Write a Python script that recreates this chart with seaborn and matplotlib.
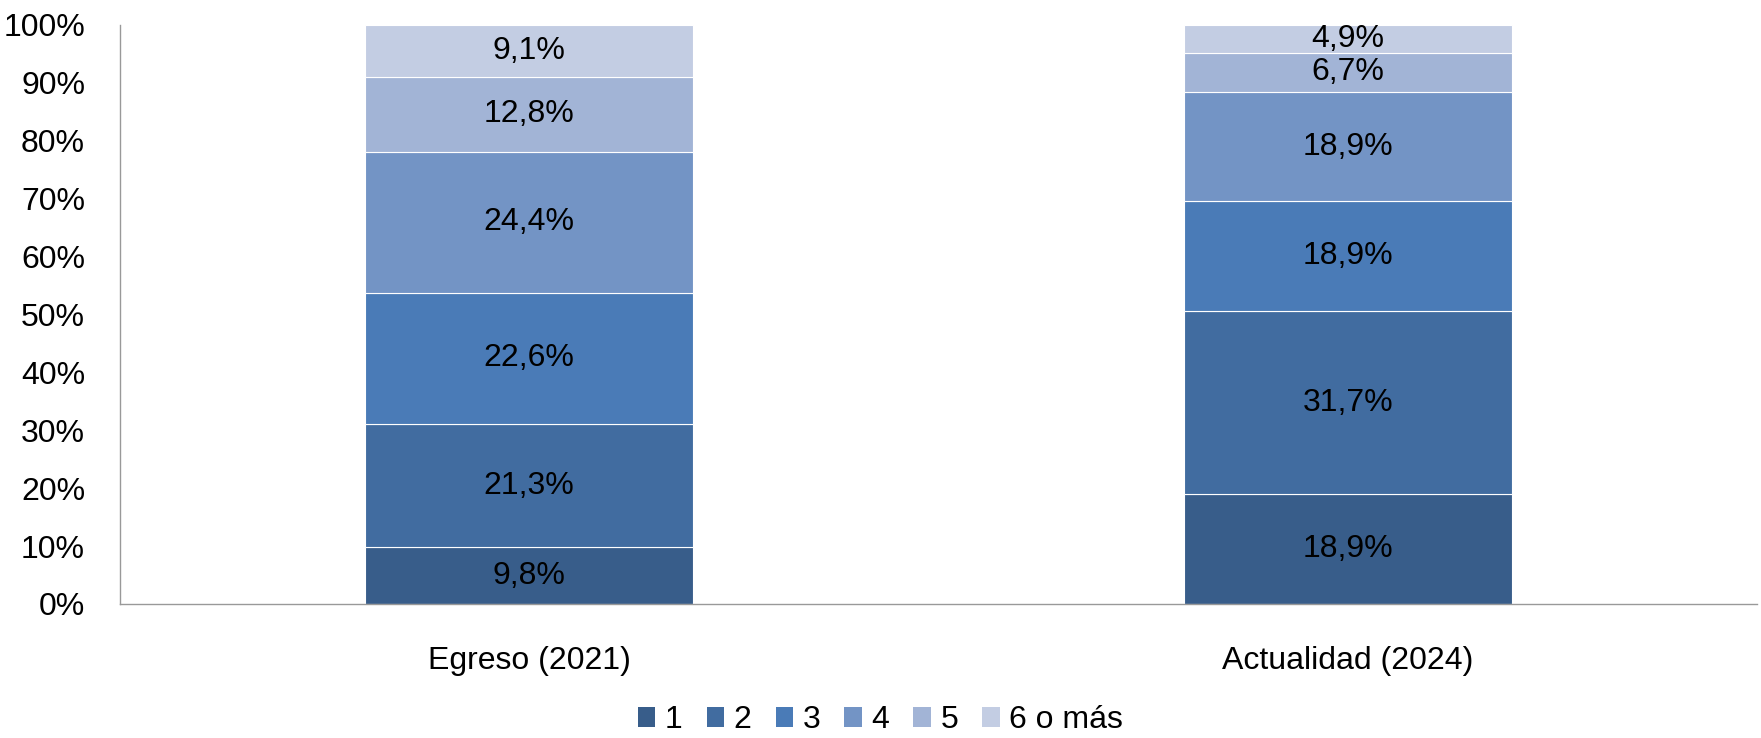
import matplotlib
matplotlib.use("Agg")
import matplotlib.pyplot as plt
import seaborn as sns
import numpy as np
from matplotlib.patches import Patch

sns.set_style("white")
plt.rcParams['font.family'] = ['Liberation Sans', 'DejaVu Sans']
plt.rcParams['text.color'] = 'black'
plt.rcParams['xtick.color'] = 'black'
plt.rcParams['ytick.color'] = 'black'

categories = ["Egreso (2021)", "Actualidad (2024)"]
levels = ["1", "2", "3", "4", "5", "6 o más"]
values = {
    "1": [9.8, 18.9],
    "2": [21.3, 31.7],
    "3": [22.6, 18.9],
    "4": [24.4, 18.9],
    "5": [12.8, 6.7],
    "6 o más": [9.1, 4.9],
}
colors = ["#385D8A", "#416CA0", "#4A7BB7", "#7394C5", "#A2B4D6", "#C3CDE3"]
yticks = [0, 10, 20, 30, 40, 50, 60, 70, 80, 90, 100]

fs = 23
fig = plt.figure(figsize=(17.61, 7.38), dpi=100)
ax = fig.add_axes([0.068, 0.1816, 0.930, 0.785])

# stacked bars, one seaborn call per level
bottom = np.zeros(len(categories))
for lvl, col in zip(levels, colors):
    vals = np.array(values[lvl])
    sns.barplot(x=categories, y=vals, bottom=bottom, color=col, width=0.4,
                saturation=1, errorbar=None, edgecolor="white", linewidth=0.8, ax=ax)
    container = ax.containers[-1]
    ax.bar_label(container, labels=[f"{v:.1f}%".replace(".", ",") for v in vals],
                 label_type="center", fontsize=fs, color="black")
    bottom += vals

ax.set_ylim(0, 100)
ax.set_xlim(-0.5, 1.5)
ax.set_yticks(yticks)
ax.set_yticklabels([f"{t}%" for t in yticks])
ax.set_xticks([-0.5, 0.5, 1.5], minor=True)
ax.tick_params(axis="x", which="major", length=0, pad=30, labelsize=fs)
ax.tick_params(axis="x", which="minor", length=8, color="#999999", width=1, direction="out")
ax.tick_params(axis="y", length=8, color="#999999", width=1, pad=17, labelsize=fs, direction="out")
ax.set_xlabel("")
ax.set_ylabel("")

for s in ["top", "right"]:
    ax.spines[s].set_visible(False)
for s in ["left", "bottom"]:
    ax.spines[s].set_color("#999999")
    ax.spines[s].set_linewidth(1)

handles = [Patch(facecolor=c, edgecolor="none", label=l) for l, c in zip(levels, colors)]
fig.legend(handles=handles, loc="center", bbox_to_anchor=(0.5, 0.024), ncol=6,
           frameon=False, fontsize=fs, handlelength=0.55, handleheight=0.55,
           handletextpad=0.3, columnspacing=0.75, borderpad=0.1)

fig.savefig("out.png", dpi=100)
